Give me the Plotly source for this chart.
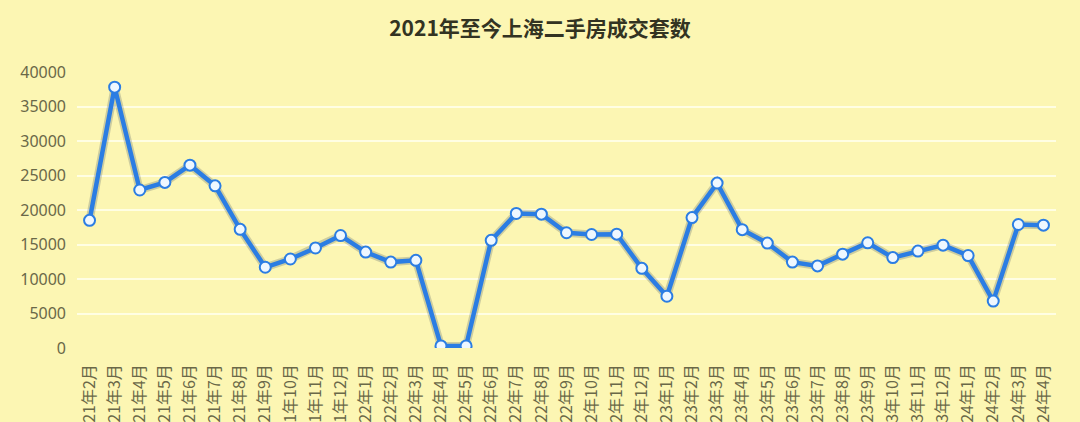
import plotly.graph_objects as go

months = (
    [f"2021年{m}月" for m in range(2, 13)]
    + [f"2022年{m}月" for m in range(1, 13)]
    + [f"2023年{m}月" for m in range(1, 13)]
    + [f"2024年{m}月" for m in range(1, 5)]
)

volumes = [
    18500, 37800, 22900, 24000, 26500, 23500, 17200, 11700, 12900, 14500, 16300,
    13900, 12450, 12700, 300, 300, 15600, 19500, 19400, 16700, 16450, 16500, 11550,
    7500, 18900, 23900, 17150, 15200, 12450, 11900, 13600, 15250, 13100, 14050,
    14900, 13400, 6800, 17900, 17800,
]

y_ticks = [0, 5000, 10000, 15000, 20000, 25000, 30000, 35000, 40000]

title_text = "2021年至今上海二手房成交套数"

bg = "#fcf6b3"
font_family = "Noto Sans CJK SC, Noto Sans, sans-serif"

fig = go.Figure()
fig.add_trace(go.Scatter(
    x=months, y=volumes, mode="lines",
    line=dict(color="rgba(40,60,90,0.22)", width=8),
    hoverinfo="skip", showlegend=False,
))
fig.add_trace(go.Scatter(
    x=months, y=volumes, mode="lines+markers",
    line=dict(color="#2b7de3", width=4.5),
    marker=dict(size=11, color="#eef7ff", line=dict(color="#2b7de3", width=2)),
    showlegend=False,
))

fig.update_layout(
    width=1080, height=422,
    paper_bgcolor=bg, plot_bgcolor=bg,
    margin=dict(l=77, r=24, t=72, b=74),
    title=dict(text=f"<b>{title_text}</b>", x=0.5, xanchor="center",
               y=0.932, yanchor="middle",
               font=dict(family=font_family, size=21, color="#333322")),
    font=dict(family=font_family),
)
fig.update_xaxes(
    type="category", range=[-0.5, len(months) - 0.5],
    tickangle=-90, showgrid=False, zeroline=False, showline=False,
    ticks="", ticklabelstandoff=12, automargin=False,
    tickfont=dict(family=font_family, size=16, color="#6a6848"),
)
fig.update_yaxes(
    range=[0, 40000], tickvals=y_ticks, ticktext=[str(v) for v in y_ticks],
    showgrid=True, gridcolor="rgba(255,255,235,0.85)", gridwidth=2,
    zeroline=False, showline=False, ticks="", ticklabelstandoff=10,
    automargin=False,
    tickfont=dict(family="Noto Sans, sans-serif", size=16, color="#6a6848"),
)

fig.write_html(
    "out.html",
    config={"displayModeBar": False},
    post_script="document.body.style.margin='0';document.body.style.background='#fcf6b3';document.body.style.overflow='hidden';",
)
